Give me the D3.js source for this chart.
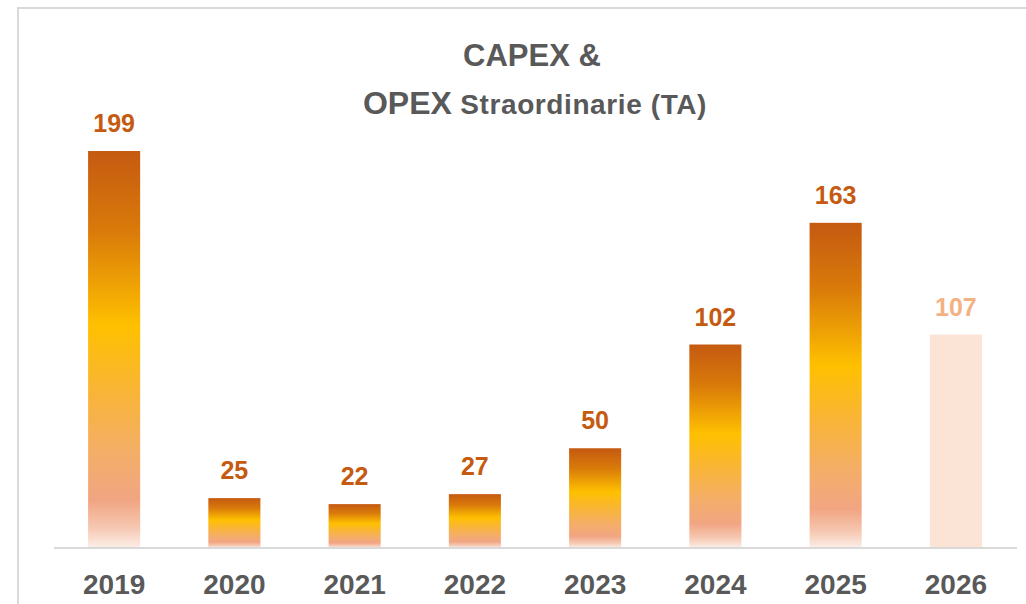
<!DOCTYPE html>
<html>
<head>
<meta charset="utf-8">
<script src="https://cdn.jsdelivr.net/npm/d3@7"></script>
<style>
  body { margin: 0; background: #fff; }
  svg { display: block; }
</style>
</head>
<body>
<div id="chart"></div>
<script>
// data
const years = ['2019', '2020', '2021', '2022', '2023', '2024', '2025', '2026'];
const values = [199, 25, 22, 27, 50, 102, 163, 107];
const forecast = [false, false, false, false, false, false, false, true];

const width = 1026, height = 604;
const baseY = 548;
const font = "'Liberation Sans', Arial, sans-serif";

const data = years.map((y, i) => ({ year: y, value: values[i], forecast: forecast[i] }));

const svg = d3.select('#chart').append('svg')
    .attr('width', width)
    .attr('height', height);

// gradient used on the actual bars
const defs = svg.append('defs');
const grad = defs.append('linearGradient')
    .attr('id', 'barGrad')
    .attr('x1', 0).attr('y1', 0)
    .attr('x2', 0).attr('y2', 1);
[
    [0, '#c55a11'],
    [0.2, '#d97a0a'],
    [0.44, '#ffc000'],
    [0.6, '#f9b535'],
    [0.76, '#f4ae68'],
    [0.88, '#f1a582'],
    [0.95, '#f6c8b2'],
    [1, '#fcefe8']
].forEach(s => grad.append('stop').attr('offset', s[0]).attr('stop-color', s[1]));

// frame
svg.append('path')
    .attr('d', `M18,${height} V8 H${width}`)
    .attr('fill', 'none')
    .attr('stroke', '#d9d9d9')
    .attr('stroke-width', 2);

const x = d3.scaleBand()
    .domain(years)
    .range([54, 1016])
    .paddingInner(0.567)
    .paddingOuter(0.2835);

const y = d3.scaleLinear()
    .domain([0, 199])
    .range([baseY, 151]);

// title
const title = svg.append('text')
    .attr('text-anchor', 'middle')
    .attr('font-family', font)
    .attr('font-weight', 'bold')
    .attr('fill', '#595959');
title.append('tspan')
    .attr('x', 532).attr('y', 66)
    .attr('font-size', 31)
    .text('CAPEX &');
const l2 = title.append('tspan')
    .attr('x', 535).attr('y', 114);
l2.append('tspan').attr('font-size', 32).text('OPEX');
l2.append('tspan').attr('font-size', 28).attr('letter-spacing', 0.6).text(' Straordinarie (TA)');

// bars
svg.selectAll('rect.bar')
    .data(data)
    .join('rect')
    .attr('class', 'bar')
    .attr('x', d => x(d.year))
    .attr('width', x.bandwidth())
    .attr('y', d => y(d.value))
    .attr('height', d => baseY - y(d.value))
    .attr('fill', d => d.forecast ? '#fbe3d6' : 'url(#barGrad)');

// value labels
svg.selectAll('text.val')
    .data(data)
    .join('text')
    .attr('class', 'val')
    .attr('x', d => x(d.year) + x.bandwidth() / 2)
    .attr('y', d => y(d.value) - 19)
    .attr('text-anchor', 'middle')
    .attr('font-family', font)
    .attr('font-weight', 'bold')
    .attr('font-size', 25)
    .attr('fill', d => d.forecast ? '#f4b183' : '#c55a11')
    .text(d => d.value);

// x axis
const xAxis = svg.append('g')
    .attr('transform', `translate(0, ${baseY})`)
    .call(d3.axisBottom(x).tickSize(0).tickPadding(36));
xAxis.select('.domain')
    .attr('d', 'M54,0H1017')
    .attr('stroke', '#d9d9d9')
    .attr('stroke-width', 2);
xAxis.selectAll('text')
    .attr('font-family', font)
    .attr('font-weight', 'bold')
    .attr('font-size', 28)
    .attr('fill', '#595959')
    .attr('dy', '0.35em');
</script>
</body>
</html>
